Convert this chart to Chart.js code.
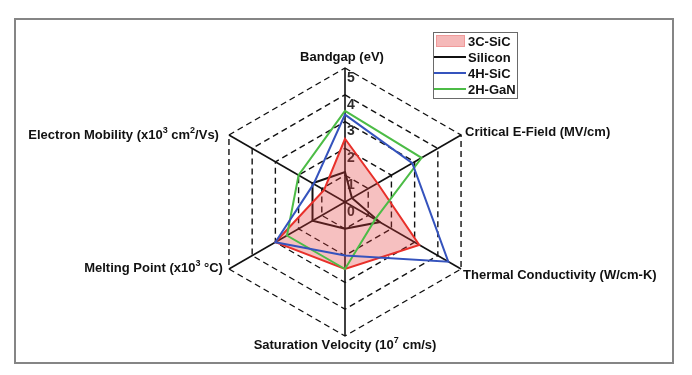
<!DOCTYPE html>
<html>
<head>
<meta charset="utf-8">
<script src="https://cdn.jsdelivr.net/npm/chart.js@4"></script>
<style>
  html, body { margin: 0; padding: 0; background: #fff; }
  canvas { display: block; }
</style>
</head>
<body>
<canvas id="chart" width="692" height="375"></canvas>
<script>
// axes, clockwise from the top
const axisLabels = [
  'Bandgap (eV)',
  'Critical E-Field (MV/cm)',
  'Thermal Conductivity (W/cm-K)',
  'Saturation Velocity (10⁷ cm/s)',
  'Melting Point (x10³ °C)',
  'Electron Mobility (x10³ cm²/Vs)'
];
const tickValues = [0, 1, 2, 3, 4, 5];

// values
const sic3c   = [2.36, 1.4, 3.2, 2.5, 3.0, 0.9];
const silicon = [1.12, 0.3, 1.5, 1.0, 1.4, 1.4];
const sic4h   = [3.26, 2.9, 4.45, 2.0, 3.0, 1.35];
const gan2h   = [3.4, 3.3, 1.3, 2.5, 2.5, 2.0];

const FONT = '"Liberation Sans", Arial, sans-serif';
const SUP = { '²': '2', '³': '3', '⁷': '7' };

// text with small raised digits for the unicode superscripts
function richWidth(ctx, str, size) {
  let w = 0;
  for (const ch of str) {
    ctx.font = SUP[ch] ? `bold ${size - 4}px ${FONT}` : `bold ${size}px ${FONT}`;
    w += ctx.measureText(SUP[ch] || ch).width;
  }
  return w;
}
function drawRich(ctx, str, x, y, align, size) {
  const w = richWidth(ctx, str, size);
  let cx = align === 'center' ? x - w / 2 : align === 'right' ? x - w : x;
  ctx.textAlign = 'left';
  ctx.textBaseline = 'middle';
  for (const ch of str) {
    if (SUP[ch]) {
      ctx.font = `bold ${size - 4}px ${FONT}`;
      ctx.fillText(SUP[ch], cx, y - 4);
      cx += ctx.measureText(SUP[ch]).width;
    } else {
      ctx.font = `bold ${size}px ${FONT}`;
      ctx.fillText(ch, cx, y);
      cx += ctx.measureText(ch).width;
    }
  }
}

const framePlugin = {
  id: 'frame',
  beforeDraw(chart) {
    const ctx = chart.ctx;
    ctx.save();
    ctx.fillStyle = '#fff';
    ctx.fillRect(0, 0, chart.width, chart.height);
    ctx.strokeStyle = '#858585';
    ctx.lineWidth = 2;
    ctx.strokeRect(15, 19, 658, 344);
    ctx.restore();
  }
};

// tick numbers sit right of the top axis, under each ring
const tickPlugin = {
  id: 'tickText',
  beforeDatasetsDraw(chart) {
    const ctx = chart.ctx;
    const r = chart.scales.r;
    ctx.save();
    ctx.fillStyle = '#2a2a2a';
    ctx.font = `bold 14px ${FONT}`;
    ctx.textAlign = 'center';
    ctx.textBaseline = 'middle';
    tickValues.forEach(v => {
      const p = r.getPointPositionForValue(0, v);
      ctx.fillText(String(v), p.x + 6, p.y + 10);
    });
    ctx.restore();
  }
};

const labelPlugin = {
  id: 'axisText',
  afterDraw(chart) {
    const ctx = chart.ctx;
    const r = chart.scales.r;
    const place = [
      { dx: -3, dy: -11, align: 'center' },
      { dx: 4, dy: -3, align: 'left' },
      { dx: 2, dy: 6, align: 'left' },
      { dx: 0, dy: 9, align: 'center' },
      { dx: -6, dy: -1, align: 'right' },
      { dx: -10, dy: 0, align: 'right' }
    ];
    ctx.save();
    ctx.fillStyle = '#111';
    chart.data.labels.forEach((lab, i) => {
      const p = r.getPointPosition(i, r.drawingArea);
      const o = place[i];
      drawRich(ctx, lab, p.x + o.dx, p.y + o.dy, o.align, 13);
    });
    ctx.restore();
  }
};

const legendPlugin = {
  id: 'boxLegend',
  afterDraw(chart) {
    const ctx = chart.ctx;
    ctx.save();
    ctx.fillStyle = '#fff';
    ctx.fillRect(433.5, 32.5, 84, 66);
    ctx.strokeStyle = '#6a6a6a';
    ctx.lineWidth = 1;
    ctx.strokeRect(433.5, 32.5, 84, 66);
    chart.data.datasets.forEach((ds, i) => {
      const y = 41 + i * 16;
      if (ds.fill) {
        ctx.fillStyle = '#f5b9b9';
        ctx.fillRect(436, y - 6, 29, 12);
        ctx.strokeStyle = '#f09a9a';
        ctx.strokeRect(436.5, y - 5.5, 28, 11);
      } else {
        ctx.strokeStyle = ds.borderColor;
        ctx.lineWidth = 2;
        ctx.beginPath();
        ctx.moveTo(434, y);
        ctx.lineTo(466, y);
        ctx.stroke();
      }
      ctx.fillStyle = '#111';
      ctx.font = `bold 13px ${FONT}`;
      ctx.textAlign = 'left';
      ctx.textBaseline = 'middle';
      ctx.fillText(ds.label, 468, y + 1);
    });
    ctx.restore();
  }
};

const ctx = document.getElementById('chart').getContext('2d');
new Chart(ctx, {
  type: 'radar',
  data: {
    labels: axisLabels,
    datasets: [
      { label: '3C-SiC', data: sic3c, borderColor: '#e8302a', backgroundColor: 'rgba(228,60,60,0.32)', fill: true, order: 3 },
      { label: 'Silicon', data: silicon, borderColor: '#111111', fill: false, order: 4 },
      { label: '4H-SiC', data: sic4h, borderColor: '#3553bd', fill: false, order: 1 },
      { label: '2H-GaN', data: gan2h, borderColor: '#4cbc46', fill: false, order: 2 }
    ]
  },
  options: {
    responsive: false,
    animation: false,
    devicePixelRatio: 1,
    layout: { padding: { top: 68, bottom: 39, left: 200, right: 202 } },
    elements: {
      line: { borderWidth: 2, tension: 0 },
      point: { radius: 0, hoverRadius: 0 }
    },
    scales: {
      r: {
        min: 0,
        max: 5,
        ticks: { stepSize: 1, display: false },
        pointLabels: { display: false },
        angleLines: { color: '#111', lineWidth: 1.6 },
        grid: { color: '#111', lineWidth: 1.4, borderDash: [6, 4] },
        border: { dash: [6, 4] }
      }
    },
    plugins: {
      legend: { display: false },
      tooltip: { enabled: false }
    }
  },
  plugins: [framePlugin, tickPlugin, labelPlugin, legendPlugin]
});
</script>
</body>
</html>
